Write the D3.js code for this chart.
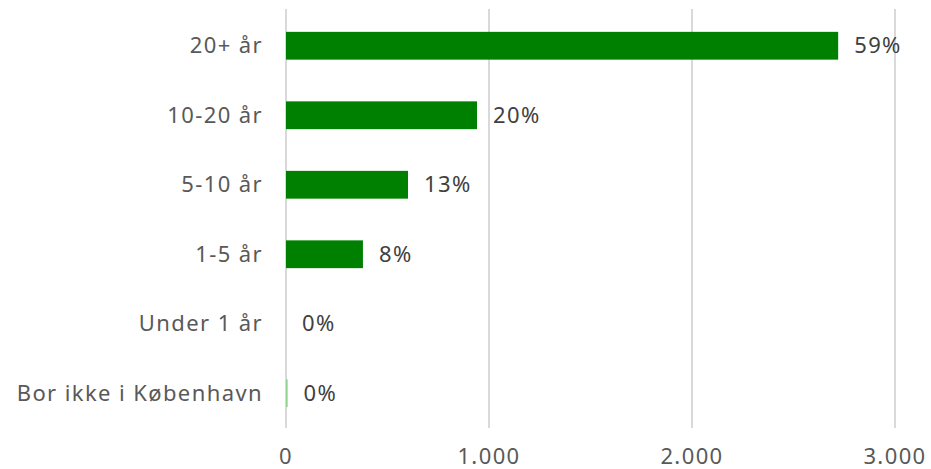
<!DOCTYPE html>
<meta charset="UTF-8">
<head>
  <script src="https://cdnjs.cloudflare.com/ajax/libs/d3/7.8.5/d3.min.js"></script>
</head>
<style>
  body { margin: 0; background: #fff; }
  .chart text { font-family: "Noto Sans", sans-serif; font-size: 22px; letter-spacing: 1.4px; }
</style>
<body>
  <div id="chart"></div>
</body>
<script>
// categories, top to bottom
var categories = ["20+ år", "10-20 år", "5-10 år", "1-5 år", "Under 1 år", "Bor ikke i København"];
var values = [2720, 941, 601, 379, 0, 8];
var pctLabels = ["59%", "20%", "13%", "8%", "0%", "0%"];
var ticks = [0, 1000, 2000, 3000];
var tickLabels = ["0", "1.000", "2.000", "3.000"];

var width = 931, height = 469;
var margin = {top: 11, right: 36, bottom: 41, left: 286};

var svg = d3.select("#chart").append("svg")
  .attr("class", "chart")
  .attr("width", width)
  .attr("height", height);

var x = d3.scaleLinear()
  .domain([0, 3000])
  .range([margin.left, margin.left + 609]);

var y = d3.scaleBand()
  .domain(categories)
  .range([margin.top, height - margin.bottom])
  .paddingInner(0.6)
  .paddingOuter(0.3);

// grid
svg.selectAll("line.grid")
  .data(ticks)
  .enter().append("line")
  .attr("class", "grid")
  .attr("x1", d => x(d)).attr("x2", d => x(d))
  .attr("y1", margin.top - 2).attr("y2", height - margin.bottom)
  .attr("stroke", "#d9d9d9")
  .attr("stroke-width", 2);

// tick labels
svg.selectAll("text.tick")
  .data(ticks)
  .enter().append("text")
  .attr("class", "tick")
  .attr("x", d => x(d))
  .attr("y", 464)
  .attr("text-anchor", "middle")
  .attr("fill", "#595959")
  .text((d, i) => tickLabels[i]);

// bars
svg.selectAll("rect.bar")
  .data(values)
  .enter().append("rect")
  .attr("class", "bar")
  .attr("x", x(0))
  .attr("y", (d, i) => y(categories[i]))
  .attr("width", d => x(d) - x(0))
  .attr("height", y.bandwidth())
  .attr("fill", (d, i) => i == 5 ? "#8fd18f" : "#008000");

// category labels
svg.selectAll("text.cat")
  .data(categories)
  .enter().append("text")
  .attr("class", "cat")
  .attr("x", 263)
  .attr("y", d => y(d) + y.bandwidth() / 2)
  .attr("dy", "0.35em")
  .attr("text-anchor", "end")
  .attr("fill", "#595959")
  .text(d => d);

// value labels
svg.selectAll("text.val")
  .data(values)
  .enter().append("text")
  .attr("class", "val")
  .attr("x", d => x(d) + 16)
  .attr("y", (d, i) => y(categories[i]) + y.bandwidth() / 2)
  .attr("dy", "0.35em")
  .attr("fill", "#404040")
  .text((d, i) => pctLabels[i]);
</script>
</html>
